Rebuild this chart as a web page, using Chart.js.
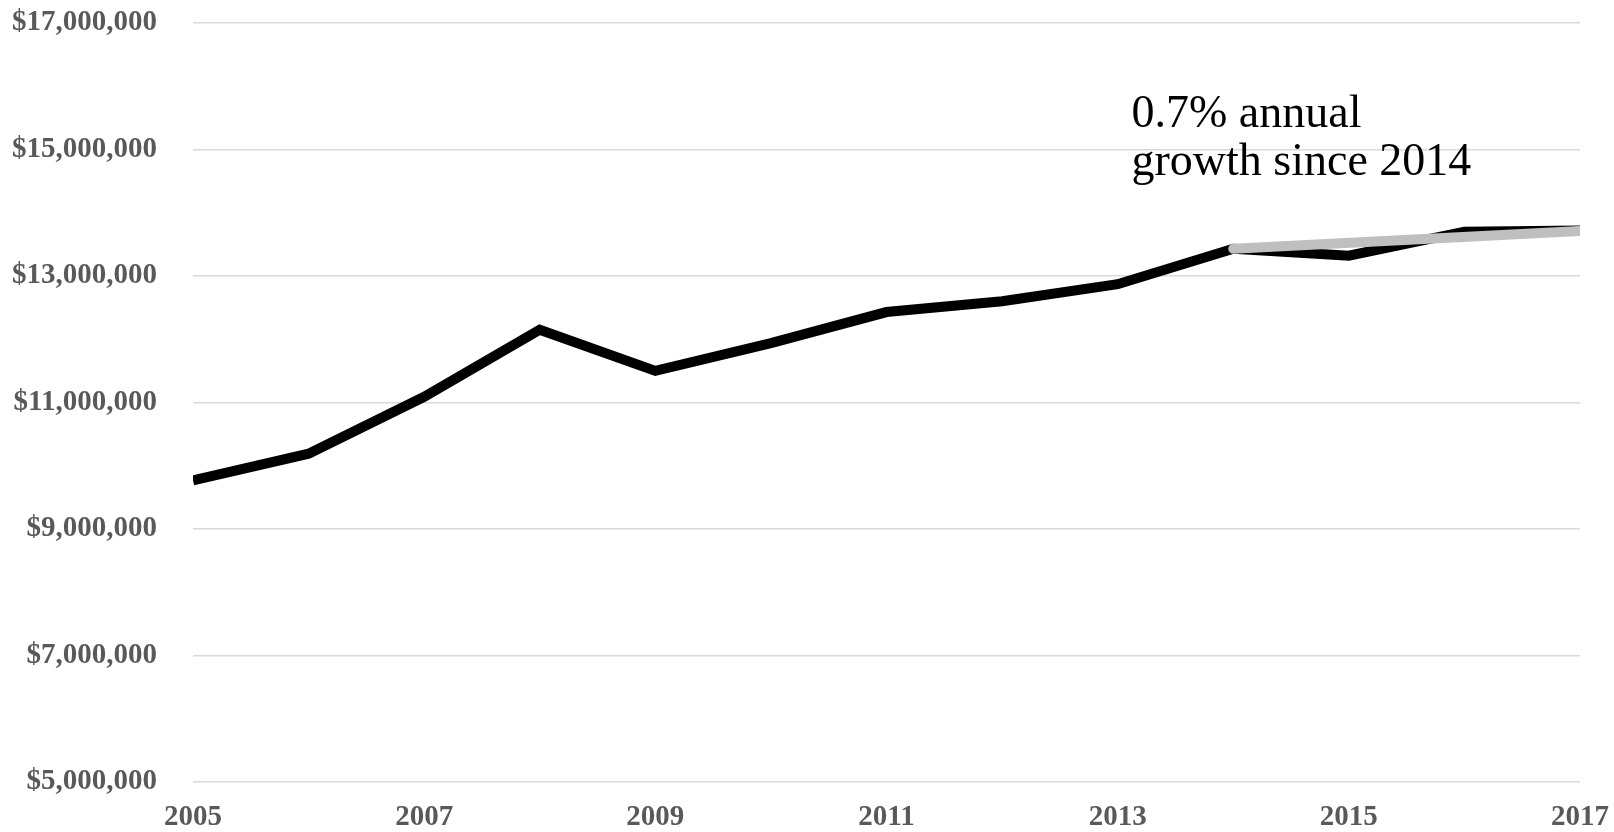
<!DOCTYPE html>
<html>
<head>
<meta charset="utf-8">
<title>Annual totals 2005-2017</title>
<script src="https://cdn.jsdelivr.net/npm/chart.js@4/dist/chart.umd.min.js"></script>
<style>
  html, body { margin: 0; padding: 0; background: #fff; }
  #wrap { width: 1614px; height: 832px; position: relative; }
</style>
</head>
<body>
<div id="wrap"><canvas id="chart"></canvas></div>
<script>
// --- data ---
const years = [2005, 2006, 2007, 2008, 2009, 2010, 2011, 2012, 2013, 2014, 2015, 2016, 2017];
const totals = [9770000, 10190000, 11090000, 12150000, 11500000, 11940000, 12430000, 12600000, 12870000, 13430000, 13320000, 13700000, 13720000];
const trendYears = [2014, 2017];
const trendTotals = [13430000, 13710000];
const yTicks = [5000000, 7000000, 9000000, 11000000, 13000000, 15000000, 17000000];
const xTicks = [2005, 2007, 2009, 2011, 2013, 2015, 2017];
const noteLines = ['0.7% annual', 'growth since 2014'];

const labelFont = { family: '"Liberation Serif", "DejaVu Serif", serif', size: 29, weight: 'bold' };

// note text anchored in data space (baseline of the first line)
const notePlugin = {
    id: 'growthNote',
    afterDatasetsDraw(chart) {
        const { ctx, scales: { x, y } } = chart;
        const left = x.getPixelForValue(2013.12);
        const base = y.getPixelForValue(15360000);
        ctx.save();
        ctx.fillStyle = '#000';
        ctx.font = '46px "Liberation Serif", "DejaVu Serif", serif';
        ctx.textAlign = 'left';
        ctx.textBaseline = 'alphabetic';
        noteLines.forEach((t, i) => ctx.fillText(t, left, base + i * 48));
        ctx.restore();
    }
};

new Chart(document.getElementById('chart'), {
    type: 'line',
    data: {
        datasets: [
            {
                label: 'Trend',
                data: trendYears.map((yr, i) => ({ x: yr, y: trendTotals[i] })),
                borderColor: '#bfbfbf',
                borderWidth: 10,
                borderCapStyle: 'round',
                pointRadius: 0,
                clip: 0,
                order: 0
            },
            {
                label: 'Total',
                data: years.map((yr, i) => ({ x: yr, y: totals[i] })),
                borderColor: '#000',
                borderWidth: 10,
                borderJoinStyle: 'miter',
                pointRadius: 0,
                clip: 0,
                order: 1
            }
        ]
    },
    options: {
        responsive: true,
        maintainAspectRatio: false,
        animation: false,
        layout: { padding: { left: 0, right: 34, top: 23, bottom: 0 } },
        plugins: { legend: { display: false }, tooltip: { enabled: false } },
        scales: {
            x: {
                type: 'linear',
                min: 2005, max: 2017,
                afterBuildTicks: s => { s.ticks = xTicks.map(v => ({ value: v })); },
                afterFit: s => { s.height = 50; s.paddingLeft = 0; s.paddingRight = 0; },
                grid: { display: false },
                border: { display: false },
                ticks: { color: '#595959', font: labelFont, padding: 10, maxRotation: 0, autoSkip: false, callback: v => String(v) }
            },
            y: {
                min: 5000000, max: 17000000,
                afterBuildTicks: s => { s.ticks = yTicks.map(v => ({ value: v })); },
                afterFit: s => { s.width = 193; s.paddingTop = 0; s.paddingBottom = 0; },
                grid: { color: '#d9d9d9', lineWidth: 1.5, drawTicks: false },
                border: { display: false },
                ticks: { color: '#595959', font: labelFont, padding: 36, callback: v => '$' + v.toLocaleString('en-US') }
            }
        }
    },
    plugins: [notePlugin]
});
</script>
</body>
</html>
